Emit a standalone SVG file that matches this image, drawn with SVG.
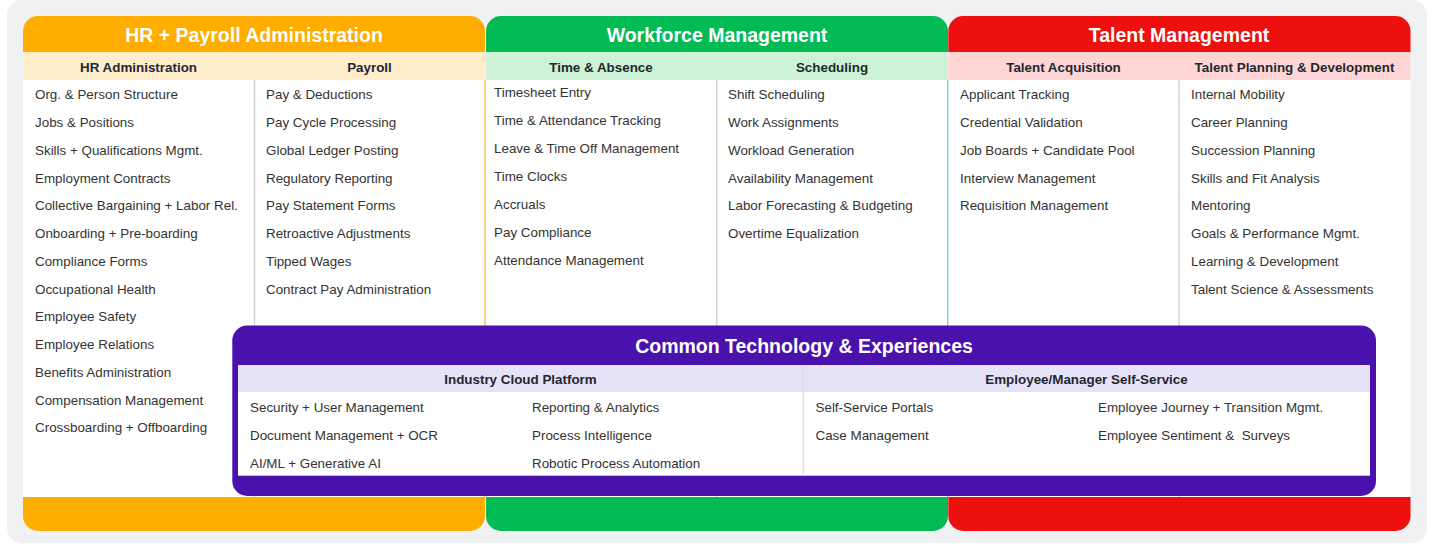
<svg xmlns="http://www.w3.org/2000/svg" width="1430" height="544" viewBox="0 0 1430 544">
<style>
text{font-family:"Liberation Sans",Arial,sans-serif;white-space:pre}
.title{font-size:19.5px;font-weight:bold;fill:#fff;text-anchor:middle}
.sub{font-size:13.4px;font-weight:bold;fill:#22282e;text-anchor:middle}
.item{font-size:13.4px;fill:#333}
.div{stroke:#cfcfcf;stroke-width:1.3}
</style>
<rect x="7" y="0" width="1420" height="543" rx="15" fill="#f0f1f3"/>
<rect x="23" y="52" width="1387.5" height="445" fill="#fff"/>
<g id="col-hr">
<path d="M23 52 V31 A15 15 0 0 1 38 16 H470 A15 15 0 0 1 485 31 V52 Z" fill="#ffad00"/>
<path d="M23 497 H485 V516 A15 15 0 0 1 470 531 H38 A15 15 0 0 1 23 516 Z" fill="#ffad00"/>
<rect x="23" y="52" width="462" height="28" fill="#ffedcc"/>
<line x1="485" y1="80" x2="485" y2="497" stroke="#f6b233" stroke-width="1.2"/>
<line class="div" x1="254.5" y1="80" x2="254.5" y2="497"/>
<text class="title" x="254" y="42.3">HR + Payroll Administration</text>
<text class="sub" x="138.5" y="71.5">HR Administration</text>
<text class="sub" x="369.5" y="71.5">Payroll</text>
<text class="item" x="35" y="99.3">Org. &amp; Person Structure</text>
<text class="item" x="35" y="127">Jobs &amp; Positions</text>
<text class="item" x="35" y="154.8">Skills + Qualifications Mgmt.</text>
<text class="item" x="35" y="182.5">Employment Contracts</text>
<text class="item" x="35" y="210.3">Collective Bargaining + Labor Rel.</text>
<text class="item" x="35" y="238">Onboarding + Pre-boarding</text>
<text class="item" x="35" y="265.8">Compliance Forms</text>
<text class="item" x="35" y="293.5">Occupational Health</text>
<text class="item" x="35" y="321.3">Employee Safety</text>
<text class="item" x="35" y="349">Employee Relations</text>
<text class="item" x="35" y="376.8">Benefits Administration</text>
<text class="item" x="35" y="404.5">Compensation Management</text>
<text class="item" x="35" y="432.3">Crossboarding + Offboarding</text>
<text class="item" x="266" y="99.3">Pay &amp; Deductions</text>
<text class="item" x="266" y="127">Pay Cycle Processing</text>
<text class="item" x="266" y="154.8">Global Ledger Posting</text>
<text class="item" x="266" y="182.5">Regulatory Reporting</text>
<text class="item" x="266" y="210.3">Pay Statement Forms</text>
<text class="item" x="266" y="238">Retroactive Adjustments</text>
<text class="item" x="266" y="265.8">Tipped Wages</text>
<text class="item" x="266" y="293.5">Contract Pay Administration</text>
</g>
<g id="col-wfm">
<path d="M486 52 V31 A15 15 0 0 1 501 16 H933 A15 15 0 0 1 948 31 V52 Z" fill="#02bb55"/>
<path d="M486 497 H948 V516 A15 15 0 0 1 933 531 H501 A15 15 0 0 1 486 516 Z" fill="#02bb55"/>
<rect x="485.6" y="52" width="462.4" height="28" fill="#cdf2d7"/>
<line x1="947.7" y1="80" x2="947.7" y2="497" stroke="#7fdca0" stroke-width="1.2"/>
<line class="div" x1="716.7" y1="80" x2="716.7" y2="497"/>
<text class="title" x="717" y="42.3">Workforce Management</text>
<text class="sub" x="601" y="71.5">Time &amp; Absence</text>
<text class="sub" x="832" y="71.5">Scheduling</text>
<text class="item" x="494" y="97.3">Timesheet Entry</text>
<text class="item" x="494" y="125.2">Time &amp; Attendance Tracking</text>
<text class="item" x="494" y="153.1">Leave &amp; Time Off Management</text>
<text class="item" x="494" y="181">Time Clocks</text>
<text class="item" x="494" y="208.9">Accruals</text>
<text class="item" x="494" y="236.8">Pay Compliance</text>
<text class="item" x="494" y="264.7">Attendance Management</text>
<text class="item" x="728" y="99.3">Shift Scheduling</text>
<text class="item" x="728" y="127">Work Assignments</text>
<text class="item" x="728" y="154.8">Workload Generation</text>
<text class="item" x="728" y="182.5">Availability Management</text>
<text class="item" x="728" y="210.3">Labor Forecasting &amp; Budgeting</text>
<text class="item" x="728" y="238">Overtime Equalization</text>
</g>
<g id="col-talent">
<path d="M948.3 52 V31 A15 15 0 0 1 963.3 16 H1395.5 A15 15 0 0 1 1410.5 31 V52 Z" fill="#ee0f0f"/>
<path d="M948.3 497 H1410.5 V516 A15 15 0 0 1 1395.5 531 H963.3 A15 15 0 0 1 948.3 516 Z" fill="#ee0f0f"/>
<rect x="948.3" y="52" width="462.2" height="28" fill="#ffd5d5"/>
<line x1="947.7" y1="80" x2="947.7" y2="497" stroke="#7fdca0" stroke-width="1.2"/>
<line class="div" x1="1179" y1="80" x2="1179" y2="497"/>
<text class="title" x="1179" y="42.3">Talent Management</text>
<text class="sub" x="1063.5" y="71.5">Talent Acquisition</text>
<text class="sub" x="1294.5" y="71.5">Talent Planning &amp; Development</text>
<text class="item" x="960" y="99.3">Applicant Tracking</text>
<text class="item" x="960" y="127">Credential Validation</text>
<text class="item" x="960" y="154.8">Job Boards + Candidate Pool</text>
<text class="item" x="960" y="182.5">Interview Management</text>
<text class="item" x="960" y="210.3">Requisition Management</text>
<text class="item" x="1191" y="99.3">Internal Mobility</text>
<text class="item" x="1191" y="127">Career Planning</text>
<text class="item" x="1191" y="154.8">Succession Planning</text>
<text class="item" x="1191" y="182.5">Skills and Fit Analysis</text>
<text class="item" x="1191" y="210.3">Mentoring</text>
<text class="item" x="1191" y="238">Goals &amp; Performance Mgmt.</text>
<text class="item" x="1191" y="265.8">Learning &amp; Development</text>
<text class="item" x="1191" y="293.5">Talent Science &amp; Assessments</text>
</g>
<g id="common-tech">
<rect x="232.3" y="325.5" width="1143.7" height="170.5" rx="15" fill="#4a12ad"/>
<rect x="238" y="365" width="1132" height="27" fill="#e6e2f8"/>
<rect x="238" y="392" width="1132" height="83.7" fill="#fff"/>
<line x1="803.3" y1="365" x2="803.3" y2="475.7" stroke="#dddddd" stroke-width="1.2"/>
<text class="title" x="804" y="353.3">Common Technology &amp; Experiences</text>
<text class="sub" x="520.5" y="384.3">Industry Cloud Platform</text>
<text class="sub" x="1086.5" y="384.3">Employee/Manager Self-Service</text>
<text class="item" x="250" y="412">Security + User Management</text>
<text class="item" x="250" y="440">Document Management + OCR</text>
<text class="item" x="250" y="468">AI/ML + Generative AI</text>
<text class="item" x="532" y="412">Reporting &amp; Analytics</text>
<text class="item" x="532" y="440">Process Intelligence</text>
<text class="item" x="532" y="468">Robotic Process Automation</text>
<text class="item" x="815.5" y="412">Self-Service Portals</text>
<text class="item" x="815.5" y="440">Case Management</text>
<text class="item" x="1098" y="412">Employee Journey + Transition Mgmt.</text>
<text class="item" x="1098" y="440">Employee Sentiment &amp;  Surveys</text>
</g>
<g id="connectors"/>
</svg>
